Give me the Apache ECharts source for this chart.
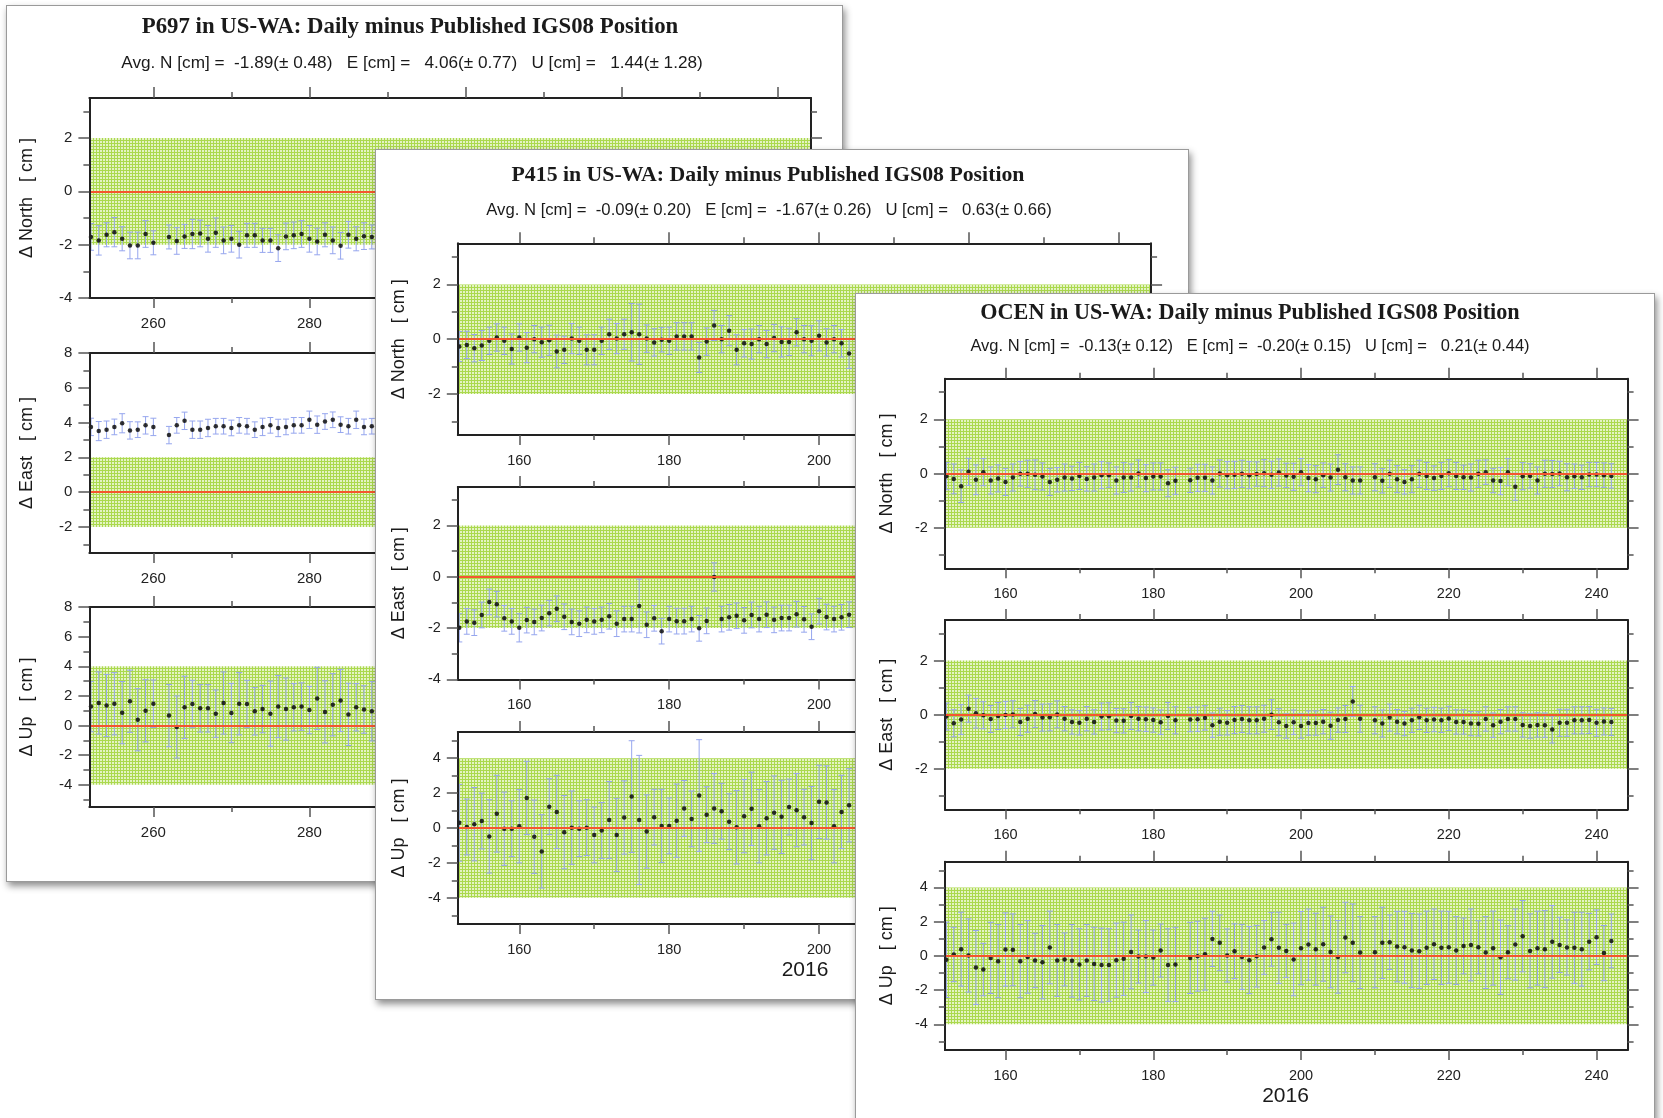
<!DOCTYPE html>
<html><head><meta charset="utf-8">
<script src="https://cdn.jsdelivr.net/npm/echarts@6/dist/echarts.min.js"></script>
<style>
html,body{margin:0;padding:0;background:#fff;width:1663px;height:1118px;overflow:hidden;position:relative}
.card{position:absolute;background:#fff;border:1px solid #9a9a9a;box-shadow:2px 4px 7px rgba(0,0,0,0.45);box-sizing:border-box}
.ch{position:absolute;left:0;top:0;right:0;bottom:0}
</style></head><body>
<div class="card" style="left:6px;top:5px;width:837px;height:877px"><div class="ch" id="ch1"></div></div>
<div class="card" style="left:375px;top:149px;width:814px;height:851px"><div class="ch" id="ch2"></div></div>
<div class="card" style="left:855px;top:293px;width:800px;height:845px"><div class="ch" id="ch3"></div></div>
<script>
// ---------------- DATA ----------------
const TITLES = ['P697 in US-WA: Daily minus Published IGS08 Position','P415 in US-WA: Daily minus Published IGS08 Position','OCEN in US-WA: Daily minus Published IGS08 Position'];
const SUBTITLES = [
 'Avg. N [cm] =  -1.89(\u00b1 0.48)   E [cm] =   4.06(\u00b1 0.77)   U [cm] =   1.44(\u00b1 1.28)',
 'Avg. N [cm] =  -0.09(\u00b1 0.20)   E [cm] =  -1.67(\u00b1 0.26)   U [cm] =   0.63(\u00b1 0.66)',
 'Avg. N [cm] =  -0.13(\u00b1 0.12)   E [cm] =  -0.20(\u00b1 0.15)   U [cm] =   0.21(\u00b1 0.44)'];
const Y_NAMES = ['\u0394 North   [ cm ]','\u0394 East   [ cm ]','\u0394 Up   [ cm ]'];
const YEAR_LABEL = '2016';
const X_TICKS_P697 = [260,280,300,320,340], X_MINOR_P697 = [270,290,310,330];
const X_TICKS = [160,180,200,220,240], X_MINOR = [170,190,210,230];

const P697_DAYS = [252,253,254,255,256,257,258,259,260,262,263,264,265,266,267,268,269,270,271,272,273,274,275,276,277,278,279,280,281,282,283,284,285,286,287,288];
const P697_N = [-1.71,-1.84,-1.63,-1.53,-1.78,-2.03,-2.03,-1.60,-1.93,-1.71,-1.86,-1.69,-1.60,-1.58,-1.78,-1.55,-1.84,-1.78,-2.00,-1.65,-1.65,-1.84,-1.84,-2.13,-1.69,-1.65,-1.60,-1.78,-1.88,-1.63,-1.84,-2.04,-1.63,-1.78,-1.68,-1.71];
const P697_N_ERR = [0.5,0.55,0.45,0.55,0.45,0.5,0.5,0.5,0.45,0.45,0.5,0.45,0.55,0.5,0.5,0.55,0.5,0.5,0.5,0.45,0.45,0.45,0.45,0.5,0.5,0.5,0.5,0.5,0.5,0.45,0.5,0.5,0.5,0.45,0.5,0.45];
const P697_E = [3.75,3.51,3.59,3.75,3.96,3.55,3.59,3.84,3.75,3.28,3.84,4.10,3.59,3.59,3.69,3.79,3.79,3.69,3.84,3.79,3.59,3.75,3.84,3.69,3.75,3.84,3.84,4.16,3.88,4.06,4.16,3.88,3.79,4.16,3.75,3.79];
const P697_E_ERR = [0.5,0.55,0.5,0.45,0.55,0.5,0.45,0.5,0.5,0.5,0.45,0.5,0.5,0.5,0.5,0.45,0.45,0.45,0.45,0.45,0.45,0.5,0.45,0.5,0.45,0.45,0.45,0.5,0.5,0.45,0.45,0.45,0.45,0.5,0.45,0.45];
const P697_U = [1.28,1.52,1.35,1.47,0.87,1.64,0.39,0.99,1.47,0.67,-0.10,1.23,1.45,1.16,1.16,0.80,1.52,0.84,1.47,1.45,0.96,1.11,0.80,1.28,1.11,1.23,1.28,1.04,1.83,0.92,1.40,1.69,0.75,1.23,1.08,0.96];
const P697_U_ERR = [1.7,2.1,2.1,2.1,2.1,2.1,2.1,2.1,1.6,2.1,2.1,2.1,1.6,1.6,1.6,1.6,2.1,2.0,2.1,1.6,1.6,1.6,2.2,2.1,2.1,1.6,1.6,1.6,2.1,2.1,2.1,2.1,2.1,1.6,1.6,2.0];

const P415_DAYS = [152,153,154,155,156,157,158,159,160,161,162,163,164,165,166,167,168,169,170,171,172,173,174,175,176,177,178,179,180,181,182,183,184,185,186,187,188,189,190,191,192,193,194,195,196,197,198,199,200,201,202,203,204];
const P415_N = [-0.27,-0.21,-0.33,-0.23,-0.06,0.06,-0.06,-0.36,0.06,-0.31,0.00,-0.11,-0.04,-0.45,-0.39,0.02,-0.06,-0.39,-0.39,-0.06,0.18,0.02,0.18,0.25,0.18,0.02,-0.12,-0.02,-0.06,0.10,0.10,0.10,-0.67,-0.09,0.50,0.00,0.31,-0.39,-0.15,-0.18,0.00,-0.18,0.04,-0.10,-0.10,0.25,0.00,-0.06,0.12,-0.12,0.00,-0.15,-0.52];
const P415_N_ERR = [0.55,0.5,0.5,0.55,0.5,0.5,0.5,0.55,0.5,0.55,0.5,0.55,0.55,0.6,0.5,0.55,0.5,0.55,0.55,0.5,0.55,0.55,0.55,1.05,1.1,0.5,0.5,0.45,0.5,0.5,0.5,0.5,0.55,0.5,0.55,0.5,0.55,0.55,0.5,0.55,0.5,0.5,0.5,0.55,0.5,0.5,0.5,0.55,0.55,0.5,0.5,0.5,0.55];
const P415_E = [-1.99,-1.74,-1.79,-1.49,-0.98,-1.07,-1.62,-1.74,-1.99,-1.69,-1.76,-1.61,-1.42,-1.25,-1.56,-1.76,-1.83,-1.68,-1.74,-1.68,-1.54,-1.83,-1.65,-1.65,-1.14,-1.87,-1.62,-2.12,-1.65,-1.73,-1.73,-1.65,-2.01,-1.72,-0.01,-1.65,-1.58,-1.52,-1.70,-1.49,-1.65,-1.48,-1.68,-1.61,-1.61,-1.46,-1.66,-1.95,-1.34,-1.57,-1.65,-1.58,-1.48];
const P415_E_ERR = [0.55,0.5,0.5,0.5,0.5,0.5,0.5,0.5,0.55,0.5,0.5,0.5,0.5,0.5,0.5,0.5,0.5,0.5,0.5,0.5,0.5,0.5,0.5,0.5,1.05,0.5,0.5,0.5,0.5,0.5,0.5,0.5,0.5,0.5,0.55,0.5,0.5,0.5,0.5,0.5,0.5,0.5,0.5,0.5,0.5,0.5,0.5,0.5,0.5,0.5,0.5,0.5,0.5];
const P415_U = [0.30,0.06,0.22,0.40,-0.48,0.82,-0.04,-0.04,0.10,1.72,-0.50,-1.34,1.22,0.92,-0.24,0.02,-0.04,0.02,-0.40,-0.14,0.46,-0.40,0.60,1.80,0.46,-0.20,0.62,0.12,0.12,0.42,1.12,0.52,1.86,0.76,1.12,0.96,0.36,0.04,0.68,1.10,0.10,0.56,0.88,0.64,1.20,1.02,0.62,0.28,1.50,1.46,0.10,0.92,1.30];
const P415_U_ERR = [2.2,1.6,2.1,1.6,2.1,2.2,2.1,1.6,2.1,2.1,2.1,2.1,1.6,2.1,2.1,2.1,1.6,1.6,1.6,1.6,2.2,2.1,2.1,3.2,3.7,2.1,1.6,2.1,1.6,2.1,1.6,1.6,3.2,1.6,2.0,1.6,1.6,2.1,2.1,2.1,2.1,2.1,2.1,2.1,1.6,2.1,1.6,2.1,2.1,2.1,2.1,2.1,2.1];

const OCEN_DAYS = [152,153,154,155,156,157,158,159,160,161,162,163,164,165,166,167,168,169,170,171,172,173,174,175,176,177,178,179,180,181,182,183,
 185,186,187,188,189,190,191,192,193,194,195,196,197,198,199,200,201,202,203,204,205,206,207,208,
 210,211,212,213,214,215,216,217,218,219,220,221,222,223,224,225,226,227,228,229,230,231,232,233,234,235,236,237,238,239,240,241,242];
const OCEN_N = [-0.10,-0.20,-0.47,0.06,-0.23,0.05,-0.26,-0.18,-0.31,-0.15,-0.01,-0.01,-0.05,-0.11,-0.31,-0.23,-0.15,-0.18,-0.09,-0.20,-0.15,-0.06,-0.06,-0.26,-0.15,-0.15,0.00,-0.17,-0.11,-0.11,-0.36,-0.27,
 -0.25,-0.16,-0.16,-0.26,0.00,-0.06,-0.05,-0.01,-0.06,-0.02,0.01,-0.05,0.04,-0.07,-0.12,0.05,-0.17,-0.21,-0.06,-0.15,0.14,-0.14,-0.26,-0.26,
 -0.14,-0.27,-0.01,-0.21,-0.31,-0.21,-0.01,-0.09,-0.17,-0.09,0.01,-0.09,-0.14,-0.15,-0.01,0.05,-0.26,-0.28,0.05,-0.49,-0.10,-0.09,-0.26,-0.01,-0.02,0.00,-0.14,-0.10,-0.14,-0.04,-0.04,-0.06,-0.09];
const OCEN_N_ERR = [0.5,0.55,0.6,0.5,0.55,0.5,0.5,0.5,0.5,0.5,0.45,0.5,0.55,0.5,0.5,0.45,0.5,0.45,0.5,0.45,0.5,0.5,0.45,0.5,0.55,0.5,0.5,0.5,0.5,0.5,0.5,0.5,
 0.45,0.5,0.5,0.5,0.5,0.5,0.5,0.5,0.5,0.45,0.5,0.5,0.5,0.45,0.5,0.5,0.5,0.5,0.45,0.5,0.55,0.5,0.5,0.5,
 0.5,0.45,0.5,0.5,0.45,0.5,0.5,0.5,0.45,0.5,0.5,0.5,0.45,0.5,0.5,0.45,0.45,0.5,0.5,0.5,0.5,0.45,0.5,0.5,0.5,0.45,0.5,0.45,0.45,0.45,0.45,0.45,0.45];
const OCEN_E = [-0.07,-0.32,-0.18,0.22,0.05,-0.02,-0.16,-0.05,-0.01,0.01,-0.27,-0.15,0.02,-0.11,-0.10,0.01,-0.15,-0.27,-0.30,-0.15,-0.27,-0.07,-0.06,-0.22,-0.23,-0.05,-0.15,-0.17,-0.20,-0.28,-0.05,-0.21,
 -0.18,-0.17,-0.12,-0.39,-0.26,-0.30,-0.20,-0.16,-0.21,-0.21,-0.15,0.00,-0.28,-0.42,-0.28,-0.42,-0.31,-0.31,-0.26,-0.41,-0.20,-0.16,0.49,-0.15,
 -0.21,-0.33,-0.11,-0.26,-0.33,-0.21,-0.10,-0.21,-0.18,-0.21,-0.14,-0.27,-0.27,-0.33,-0.34,-0.16,-0.39,-0.26,-0.16,-0.16,-0.38,-0.42,-0.38,-0.39,-0.55,-0.30,-0.30,-0.21,-0.21,-0.20,-0.30,-0.25,-0.27];
const OCEN_E_ERR = [0.5,0.5,0.55,0.5,0.55,0.5,0.5,0.5,0.5,0.5,0.5,0.5,0.5,0.5,0.5,0.5,0.45,0.45,0.45,0.45,0.45,0.5,0.5,0.45,0.45,0.5,0.45,0.45,0.45,0.45,0.5,0.5,
 0.45,0.45,0.45,0.45,0.5,0.45,0.5,0.5,0.5,0.5,0.5,0.55,0.5,0.45,0.45,0.45,0.45,0.45,0.45,0.5,0.45,0.5,0.55,0.5,
 0.5,0.5,0.5,0.45,0.45,0.45,0.45,0.45,0.45,0.45,0.45,0.45,0.45,0.45,0.45,0.45,0.45,0.45,0.45,0.45,0.45,0.45,0.45,0.45,0.5,0.5,0.5,0.5,0.5,0.5,0.5,0.5,0.5];
const OCEN_U = [-0.23,0.08,0.39,0.02,-0.68,-0.80,-0.12,-0.31,0.37,0.35,-0.31,-0.06,-0.27,-0.37,0.49,-0.27,-0.21,-0.29,-0.50,-0.27,-0.47,-0.54,-0.54,-0.25,-0.17,0.23,-0.04,-0.04,-0.10,0.31,-0.54,-0.50,
 -0.12,-0.02,0.10,0.99,0.76,0.02,0.27,-0.06,-0.25,-0.02,0.49,0.97,0.47,0.29,-0.21,0.45,0.66,0.39,0.68,0.23,-0.06,1.07,0.76,0.19,
 0.21,0.76,0.80,0.54,0.50,0.31,0.27,0.47,0.68,0.47,0.50,0.31,0.58,0.64,0.50,0.19,0.45,-0.08,0.21,0.66,1.15,0.29,0.45,0.39,0.82,0.64,0.49,0.47,0.39,0.83,1.09,0.16,0.87];
const OCEN_U_ERR = [2.2,1.59,2.16,2.14,2.16,1.53,2.08,2.14,2.14,2.10,2.14,2.12,1.59,2.14,2.12,2.10,1.55,2.12,2.08,2.10,2.14,2.16,2.12,2.16,2.14,2.16,1.55,2.10,1.61,1.55,2.12,2.17,
 2.08,2.04,2.10,1.61,1.63,1.55,1.6,1.9,1.96,1.8,1.57,1.57,2.08,1.55,2.12,2.14,2.08,2.10,2.16,2.1,2.12,2.06,2.27,2.10,
 2.08,2.08,1.59,2.06,2.10,2.17,2.17,2.14,2.06,2.14,2.10,1.98,1.63,2.10,1.55,2.10,2.16,2.17,1.55,2.08,2.08,2.16,2.16,2.25,2.12,1.61,1.61,2.08,2.16,1.65,1.59,1.61,1.57];

// ---------------- STYLE ----------------
const SANS = '"Liberation Sans", Arial, sans-serif';
const SERIF = '"Liberation Serif", "Times New Roman", serif';
const AXC = '#222', TKC = '#555', ERRC = '#96a6ee', ZEROC = '#f4562e';

function makePattern(){
  const c = document.createElement('canvas'); c.width = 3; c.height = 3;
  const x = c.getContext('2d');
  x.fillStyle = '#e4f3c4'; x.fillRect(0,0,3,3);
  x.fillStyle = '#abd94e'; x.fillRect(2,0,1,3); x.fillRect(0,2,3,1);
  return {image: c, repeat: 'repeat'};
}
const PATTERN = makePattern();

function errBar(params, api){
  const x = api.value(0), y = api.value(1), e = api.value(2);
  const t = api.coord([x, y + e]), b = api.coord([x, y - e]);
  const hw = 3, st = {stroke: ERRC, lineWidth: 1};
  return {type:'group', children:[
    {type:'line', shape:{x1:t[0], y1:t[1], x2:b[0], y2:b[1]}, style:st},
    {type:'line', shape:{x1:t[0]-hw, y1:t[1], x2:t[0]+hw, y2:t[1]}, style:st},
    {type:'line', shape:{x1:b[0]-hw, y1:b[1], x2:b[0]+hw, y2:b[1]}, style:st}
  ]};
}

function textEl(text, x, y, font, rot){
  return {type:'text', x:x, y:y, rotation: rot || 0, z: 50,
    style:{text:text, font:font, fill:'#1a1a1a', align:'center', verticalAlign:'middle', textAlign:'center', textVerticalAlign:'middle'}};
}

function build(cfg){
  const grid = [], xAxis = [], yAxis = [], series = [], graphic = [];
  graphic.push(textEl(cfg.title, cfg.titleX, cfg.titleY, 'bold ' + cfg.titleSize + 'px ' + SERIF));
  graphic.push(textEl(cfg.sub, cfg.subX, cfg.subY, cfg.subSize + 'px ' + SANS));
  if (cfg.yearX) graphic.push(textEl(YEAR_LABEL, cfg.yearX, cfg.yearY, '21px ' + SANS));
  cfg.plots.forEach((p, g) => {
    grid.push({left:p.left, top:p.top, width:cfg.width, height:p.height});
    graphic.push(textEl(Y_NAMES[g], cfg.yNameX, p.top + p.height/2, '18px ' + SANS, Math.PI/2));
    const xb = {gridIndex:g, type:'value', min:cfg.xMin, max:cfg.xMax, splitLine:{show:false}, z:10};
    const line = {show:true, onZero:false, lineStyle:{color:AXC, width:2}};
    const noLine = {show:false, onZero:false};
    const tick = (vals, len) => ({show:true, inside:false, length:len, customValues:vals, lineStyle:{color:TKC, width:1.5}});
    const lab = (vals, m) => ({show:true, customValues:vals, margin:m, fontSize:cfg.tickFont, color:'#222', fontFamily:SANS});
    xAxis.push(Object.assign({}, xb, {position:'bottom', axisLine:line, axisTick:tick(cfg.xMajors, 10), axisLabel:lab(cfg.xMajors, 18)}));
    xAxis.push(Object.assign({}, xb, {position:'bottom', axisLine:noLine, axisTick:tick(cfg.xMinors, 5), axisLabel:{show:false}}));
    xAxis.push(Object.assign({}, xb, {position:'top', axisLine:line, axisTick:tick(cfg.xMajors, 11), axisLabel:{show:false}}));
    xAxis.push(Object.assign({}, xb, {position:'top', axisLine:noLine, axisTick:tick(cfg.xMinors, 6), axisLabel:{show:false}}));
    const yb = {gridIndex:g, type:'value', min:p.yMin, max:p.yMax, splitLine:{show:false}, z:10};
    yAxis.push(Object.assign({}, yb, {position:'left', axisLine:line, axisTick:tick(p.yMajors, 11), axisLabel:lab(p.yMajors, 17)}));
    yAxis.push(Object.assign({}, yb, {position:'left', axisLine:noLine, axisTick:tick(p.yMinors, 6), axisLabel:{show:false}}));
    yAxis.push(Object.assign({}, yb, {position:'right', axisLine:line, axisTick:tick(p.yMajors, 11), axisLabel:{show:false}}));
    yAxis.push(Object.assign({}, yb, {position:'right', axisLine:noLine, axisTick:tick(p.yMinors, 6), axisLabel:{show:false}}));
    const ax = {xAxisIndex:4*g, yAxisIndex:4*g};
    series.push(Object.assign({type:'line', data:[], z:1, silent:true,
      markArea:{silent:true, itemStyle:{color:PATTERN}, data:[[{xAxis:cfg.xMin, yAxis:-p.band},{xAxis:cfg.xMax, yAxis:p.band}]]}}, ax));
    series.push(Object.assign({type:'custom', z:2, silent:true, clip:true, renderItem:errBar,
      data:p.days.map((d,i)=>[d, p.vals[i], p.errs[i]])}, ax));
    series.push(Object.assign({type:'line', data:[], z:3, silent:true,
      markLine:{silent:true, symbol:['none','none'], label:{show:false}, lineStyle:{color:ZEROC, width:2, type:'solid'}, data:[{yAxis:0}]}}, ax));
    series.push(Object.assign({type:'scatter', z:4, silent:true, symbolSize:4.5, itemStyle:{color:'#000'},
      data:p.days.map((d,i)=>[d, p.vals[i]])}, ax));
  });
  return {animation:false, grid, xAxis, yAxis, series, graphic};
}

const cfgs = [
 {el:'ch1', xMin:251.8, xMax:344.3, xMajors:X_TICKS_P697, xMinors:X_MINOR_P697, tickFont:15, width:721.6,
  title:TITLES[0], titleX:403, titleY:21, titleSize:22.8, sub:SUBTITLES[0], subX:405, subY:57, subSize:17.2, yNameX:20,
  plots:[
   {left:82.4, top:92, height:200, yMin:-4, yMax:3.5, yMajors:[-4,-2,0,2], yMinors:[-3,-1,1,3], band:2, days:P697_DAYS, vals:P697_N, errs:P697_N_ERR},
   {left:82.4, top:347, height:200, yMin:-3.5, yMax:8, yMajors:[-2,0,2,4,6,8], yMinors:[-3,-1,1,3,5,7], band:2, days:P697_DAYS, vals:P697_E, errs:P697_E_ERR},
   {left:82.4, top:601, height:200, yMin:-5.5, yMax:8, yMajors:[-4,-2,0,2,4,6,8], yMinors:[-5,-3,-1,1,3,5,7], band:4, days:P697_DAYS, vals:P697_U, errs:P697_U_ERR}]},
 {el:'ch2', xMin:151.8, xMax:244.3, xMajors:X_TICKS, xMinors:X_MINOR, tickFont:14.5, width:693.3,
  title:TITLES[1], titleX:392, titleY:25, titleSize:21.8, sub:SUBTITLES[1], subX:393, subY:60, subSize:16.7, yNameX:22.8,
  yearX:429, yearY:820.7,
  plots:[
   {left:81.8, top:93.3, height:191.7, yMin:-3.5, yMax:3.5, yMajors:[-2,0,2], yMinors:[-3,-1,1,3], band:2, days:P415_DAYS, vals:P415_N, errs:P415_N_ERR},
   {left:81.8, top:336.9, height:192.5, yMin:-4, yMax:3.5, yMajors:[-4,-2,0,2], yMinors:[-3,-1,1,3], band:2, days:P415_DAYS, vals:P415_E, errs:P415_E_ERR},
   {left:81.8, top:582, height:192, yMin:-5.5, yMax:5.5, yMajors:[-4,-2,0,2,4], yMinors:[-5,-3,-1,1,3,5], band:4, days:P415_DAYS, vals:P415_U, errs:P415_U_ERR}]},
 {el:'ch3', xMin:151.8, xMax:244.2, xMajors:X_TICKS, xMinors:X_MINOR, tickFont:14.5, width:682.7,
  title:TITLES[2], titleX:394, titleY:19.3, titleSize:22.2, sub:SUBTITLES[2], subX:394, subY:52.7, subSize:16.5, yNameX:31.3,
  yearX:429.5, yearY:802.7,
  plots:[
   {left:88.9, top:84.7, height:189.6, yMin:-3.5, yMax:3.5, yMajors:[-2,0,2], yMinors:[-3,-1,1,3], band:2, days:OCEN_DAYS, vals:OCEN_N, errs:OCEN_N_ERR},
   {left:88.9, top:326, height:189.3, yMin:-3.5, yMax:3.5, yMajors:[-2,0,2], yMinors:[-3,-1,1,3], band:2, days:OCEN_DAYS, vals:OCEN_E, errs:OCEN_E_ERR},
   {left:88.9, top:567.7, height:188.3, yMin:-5.5, yMax:5.5, yMajors:[-4,-2,0,2,4], yMinors:[-5,-3,-1,1,3,5], band:4, days:OCEN_DAYS, vals:OCEN_U, errs:OCEN_U_ERR}]}
];
cfgs.forEach(c => {
  const chart = echarts.init(document.getElementById(c.el), null, {renderer:'canvas'});
  chart.setOption(build(c));
});
</script>
</body></html>
